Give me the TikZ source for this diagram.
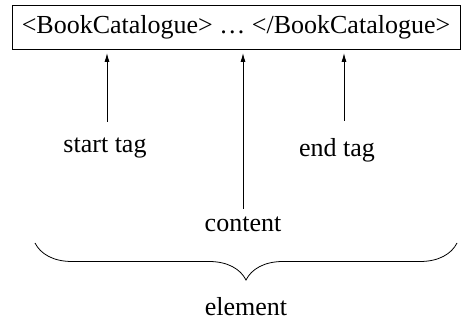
\documentclass[tikz,border=0pt]{standalone}
\usepackage{fontspec}
\setmainfont{Liberation Serif}
\usetikzlibrary{arrows.meta,positioning,decorations.pathreplacing}

\begin{document}
\begin{tikzpicture}[x=1pt,y=-1pt,>={Latex[length=9pt,width=5pt]},line width=0.8pt,
  every node/.style={font=\fontsize{26}{30}\selectfont,inner sep=2pt},
  tagbox/.style={draw,minimum width=448pt,minimum height=44pt}]
\useasboundingbox (0,0) rectangle (461,323);
  \node[tagbox]             (T)  at (236,27)    {<BookCatalogue> \dots\ </BookCatalogue>};
  \node[anchor=base]        (S)  at (105,153)   {start tag};
  \node[anchor=base]        (C)  at (243,232)   {content};
  \node[anchor=base]        (E)  at (337,157)   {end tag};
  \node[anchor=base,inner sep=0pt] (El) at (246,316) {element};
  \coordinate (s) at (107,53);
  \coordinate (c) at (243,53);
  \coordinate (e) at (344,53);
  \coordinate (bl) at (35,243);
  \coordinate (br) at (457,243);
\tikzset{tagarrow/.style={->,shorten <=#1}}
\draw[tagarrow=14pt] (S.north -| s) -- (s);
\draw[tagarrow=6pt]  (C.north -| c) -- (c);
\draw[tagarrow=16pt] (E.north -| e) -- (e);
\draw[decorate,decoration={brace,mirror,amplitude=37pt}] (bl) -- (br);
\end{tikzpicture}
\end{document}
